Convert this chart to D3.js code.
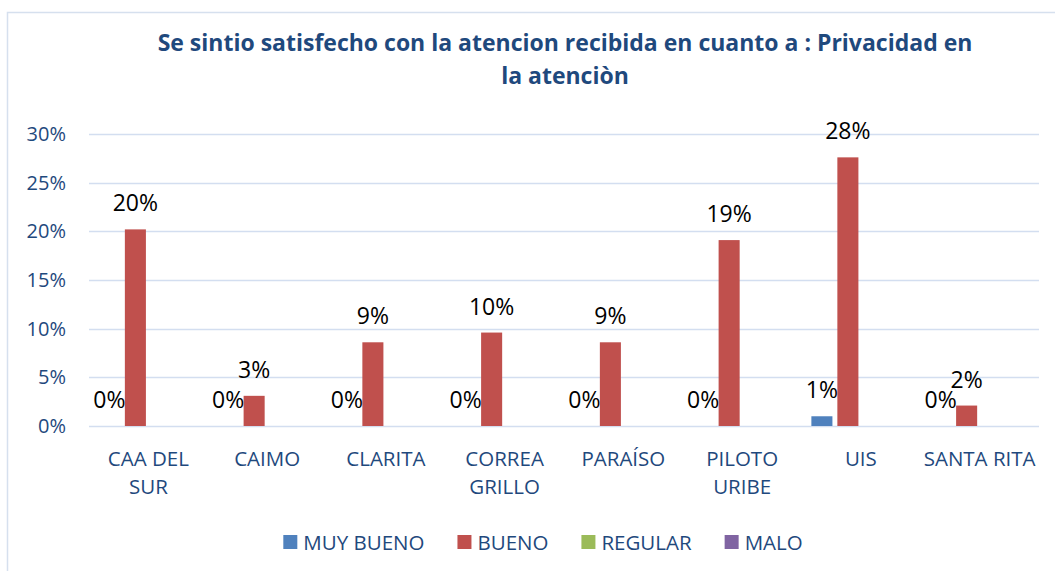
<!DOCTYPE html>
<html>
<head>
<meta charset="utf-8">
<script src="https://cdn.jsdelivr.net/npm/d3@7"></script>
<style>
  body { margin: 0; background: #fff; }
  svg { font-family: "Open Sans", "Noto Sans", sans-serif; }
</style>
</head>
<body>
<script>
// data
const categories = ["CAA DEL SUR", "CAIMO", "CLARITA", "CORREA GRILLO", "PARAÍSO", "PILOTO URIBE", "UIS", "SANTA RITA"];
const tickLabels = [["CAA DEL", "SUR"], ["CAIMO"], ["CLARITA"], ["CORREA", "GRILLO"], ["PARAÍSO"], ["PILOTO", "URIBE"], ["UIS"], ["SANTA RITA"]];
const seriesNames = ["MUY BUENO", "BUENO", "REGULAR", "MALO"];
const seriesColors = ["#4f81bd", "#c0504d", "#9bbb59", "#8064a2"];
const muyBueno = [0, 0, 0, 0, 0, 0, 0.010, 0];
const bueno = [0.202, 0.031, 0.086, 0.096, 0.086, 0.191, 0.276, 0.021];
const regular = [null, null, null, null, null, null, null, null];
const malo = [null, null, null, null, null, null, null, null];
const yTicks = [0, 0.05, 0.10, 0.15, 0.20, 0.25, 0.30];
const title = ["Se sintio satisfecho con la atencion recibida en cuanto a : Privacidad en", "la atenciòn"];

const series = [muyBueno, bueno, regular, malo];
const W = 1055, H = 571;
const textBlue = "#1f497d";

const svg = d3.select('body').append('svg')
    .attr('width', W)
    .attr('height', H);

// chart frame
svg.append('rect')
    .attr('x', 7.5).attr('y', 12.5)
    .attr('width', W + 10).attr('height', H + 10)
    .attr('fill', 'none')
    .attr('stroke', '#d6e0ee')
    .attr('stroke-width', 1.5);

// title
svg.append('text')
    .attr('x', 565)
    .attr('text-anchor', 'middle')
    .attr('fill', textBlue)
    .attr('font-weight', 'bold')
    .attr('font-size', 23)
    .selectAll('tspan')
    .data(title)
    .enter()
    .append('tspan')
    .attr('x', 565)
    .attr('y', (_, i) => 51 + i * 33)
    .text(d => d);

const x0 = d3.scaleBand()
    .domain(categories)
    .range([89, 1039])
    .padding(0);

const x1 = d3.scaleBand()
    .domain(seriesNames)
    .range([0, x0.bandwidth()])
    .paddingInner(0.19)
    .paddingOuter(0.38);

const y = d3.scaleLinear()
    .domain([0, 0.30])
    .range([426, 134]);

// gridlines
svg.append('g')
    .selectAll('line')
    .data(yTicks)
    .enter()
    .append('line')
    .attr('x1', 89).attr('x2', 1039)
    .attr('y1', d => Math.round(y(d)) + 0.5)
    .attr('y2', d => Math.round(y(d)) + 0.5)
    .attr('stroke', '#d3def0')
    .attr('stroke-width', 1.5);

// y axis labels
const yAxis = d3.axisLeft(y)
    .tickValues(yTicks)
    .tickFormat(d3.format('.0%'))
    .tickSize(0)
    .tickPadding(0);

const yg = svg.append('g')
    .attr('transform', 'translate(66,0)')
    .call(yAxis);
yg.select('.domain').remove();
yg.selectAll('text')
    .attr('fill', textBlue)
    .attr('font-size', 20)
    .attr('font-family', '"Open Sans", "Noto Sans", sans-serif');

// x category labels
const xg = svg.append('g');
categories.forEach((cat, i) => {
    const t = xg.append('text')
        .attr('text-anchor', 'middle')
        .attr('fill', textBlue)
        .attr('font-size', 20.5);
    t.selectAll('tspan')
        .data(tickLabels[i])
        .enter()
        .append('tspan')
        .attr('x', x0(cat) + x0.bandwidth() / 2)
        .attr('y', (_, j) => 466 + j * 28)
        .text(d => d);
});

// bars + labels
const bars = [];
series.forEach((vals, s) => {
    vals.forEach((v, i) => {
        if (v !== null) bars.push({ cat: categories[i], name: seriesNames[s], s: s, value: v });
    });
});

svg.append('g')
    .selectAll('rect')
    .data(bars)
    .enter()
    .append('rect')
    .attr('x', d => x0(d.cat) + x1(d.name))
    .attr('y', d => y(d.value))
    .attr('width', x1.bandwidth())
    .attr('height', d => y(0) - y(d.value))
    .attr('fill', d => seriesColors[d.s]);

svg.append('g')
    .selectAll('text')
    .data(bars)
    .enter()
    .append('text')
    .attr('x', d => x0(d.cat) + x1(d.name) + x1.bandwidth() / 2)
    .attr('y', d => y(d.value) - 18)
    .attr('text-anchor', 'middle')
    .attr('font-size', 23)
    .attr('fill', '#000')
    .text(d => d3.format('.0%')(d.value));

// legend
const legend = svg.append('g');
let lx = 0;
seriesNames.forEach((name, i) => {
    const g = legend.append('g');
    g.append('rect')
        .attr('x', 0).attr('y', -7)
        .attr('width', 14).attr('height', 14)
        .attr('fill', seriesColors[i]);
    const t = g.append('text')
        .attr('x', 20).attr('y', 7.5)
        .attr('font-size', 20.5)
        .attr('fill', textBlue)
        .text(name);
    const w = 20 + t.node().getComputedTextLength();
    g.attr('transform', `translate(${lx},0)`);
    lx += w + 33;
});
const legendWidth = lx - 33;
legend.attr('transform', `translate(${543 - legendWidth / 2},542)`);
</script>
</body>
</html>
